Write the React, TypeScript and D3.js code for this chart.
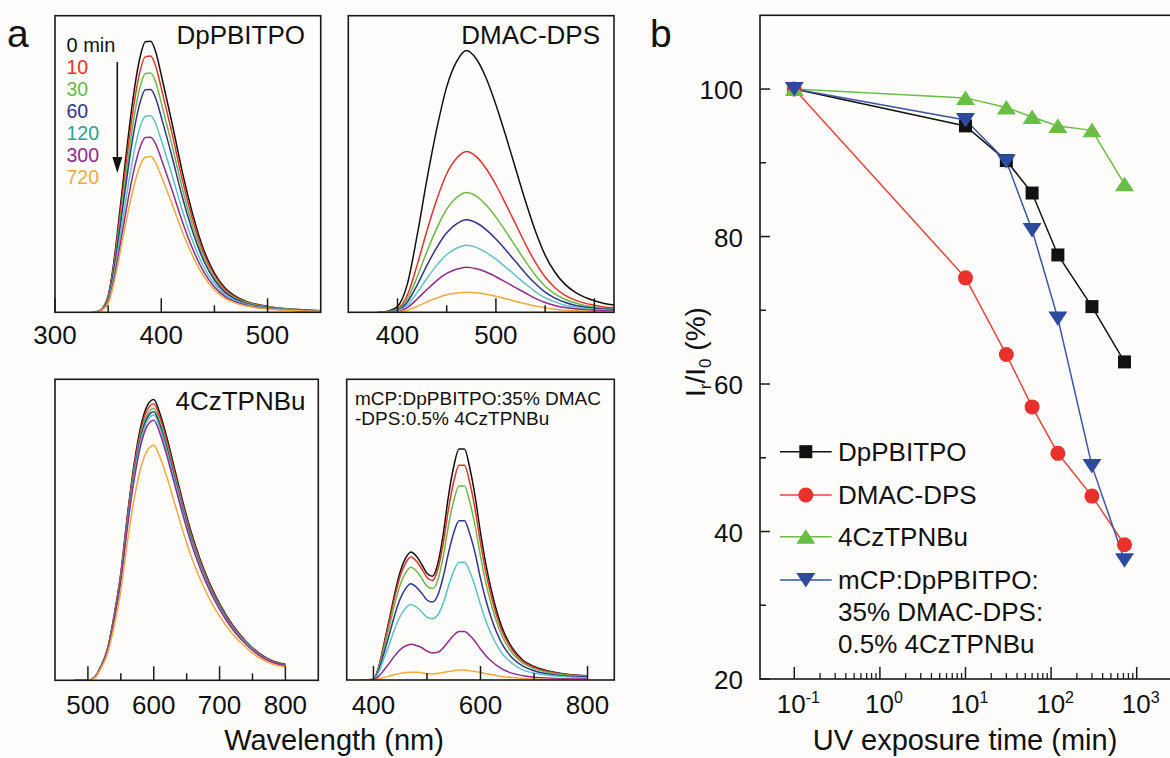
import React from "react";
import * as d3 from "d3";

const FONT = "'Liberation Sans', Arial, Helvetica, sans-serif";

// ---------- panel a : PL spectra vs UV exposure ----------
const TIME_LABELS = ["0 min", "10", "30", "60", "120", "300", "720"];
const LINE_COLORS = ["#111111", "#e8302a", "#6bb945", "#2f3490", "#5cc2c4", "#92298e", "#f3a83b"];
const TEXT_COLORS = ["#111111", "#e8302a", "#6bb945", "#2f3490", "#2f9f8b", "#92298e", "#f3a83b"];

const WL_DPPBITPO = [335, 340, 345, 350, 355, 360, 365, 370, 375, 380, 385, 390, 395, 400, 410, 420, 430, 440, 450, 460, 470, 480, 500, 525, 550];
const PL_DPPBITPO = [
  [0, 0.3, 1.5, 5.4, 16, 31, 47, 62.5, 76, 86, 91.2, 91.4, 87.5, 80, 64, 47, 32.5, 21, 13.2, 8.2, 5.4, 3.7, 2, 1, 0.5],
  [0, 0.3, 1.4, 5.1, 15.1, 29.3, 44.4, 59.1, 71.8, 81.3, 86.2, 86.4, 82.7, 75.6, 60.5, 44.4, 30.7, 19.8, 12.5, 7.7, 5.1, 3.5, 1.9, 0.9, 0.5],
  [0, 0.3, 1.3, 4.8, 14.1, 27.4, 41.5, 55.2, 67.1, 75.9, 80.5, 80.7, 77.3, 70.6, 56.5, 41.5, 28.7, 18.5, 11.7, 7.2, 4.8, 3.3, 1.8, 0.9, 0.4],
  [0, 0.2, 1.2, 4.4, 13.2, 25.5, 38.6, 51.4, 62.5, 70.7, 75, 75.1, 71.9, 65.8, 52.6, 38.6, 26.7, 17.3, 10.9, 6.7, 4.4, 3, 1.6, 0.8, 0.4],
  [0, 0.2, 1.1, 3.9, 11.6, 22.5, 34.1, 45.3, 55.1, 62.4, 66.1, 66.3, 63.4, 58, 46.4, 34.1, 23.6, 15.2, 9.6, 5.9, 3.9, 2.7, 1.5, 0.7, 0.4],
  [0, 0.2, 1, 3.5, 10.3, 20, 30.4, 40.4, 49.1, 55.6, 58.9, 59, 56.5, 51.7, 41.3, 30.4, 21, 13.6, 8.5, 5.3, 3.5, 2.4, 1.3, 0.6, 0.3],
  [0, 0.2, 0.9, 3.1, 9.2, 17.8, 27, 35.9, 43.6, 49.4, 52.3, 52.5, 50.2, 45.9, 36.7, 27, 18.7, 12.1, 7.6, 4.7, 3.1, 2.1, 1.1, 0.6, 0.3],
];

const WL_DMACDPS = [380, 390, 400, 410, 420, 430, 440, 450, 460, 470, 480, 490, 500, 510, 520, 530, 540, 550, 560, 570, 580, 590, 600, 610, 620];
const PL_DMACDPS = [
  [0, 0.4, 2, 9.5, 26, 45, 62, 76, 84.5, 88.3, 85.5, 79, 70, 59.5, 48.5, 37.5, 27.5, 19.3, 13.5, 9.5, 6.9, 5.1, 3.9, 3, 2.5],
  [0, 0.2, 1.2, 5.8, 16, 27.6, 38.1, 46.7, 51.9, 54.2, 52.5, 48.5, 43, 36.5, 29.8, 23, 16.9, 11.9, 8.3, 5.8, 4.2, 3.1, 2.4, 1.8, 1.5],
  [0, 0.2, 0.9, 4.4, 11.9, 20.6, 28.4, 34.8, 38.7, 40.4, 39.2, 36.2, 32.1, 27.3, 22.2, 17.2, 12.6, 8.8, 6.2, 4.4, 3.2, 2.3, 1.8, 1.4, 1.1],
  [0, 0.1, 0.7, 3.4, 9.2, 15.9, 21.9, 26.8, 29.8, 31.2, 30.2, 27.9, 24.7, 21, 17.1, 13.2, 9.7, 6.8, 4.8, 3.4, 2.4, 1.8, 1.4, 1.1, 0.9],
  [0, 0.1, 0.5, 2.4, 6.7, 11.5, 15.9, 19.5, 21.6, 22.6, 21.9, 20.2, 17.9, 15.2, 12.4, 9.6, 7, 4.9, 3.5, 2.4, 1.8, 1.3, 1, 0.8, 0.6],
  [0, 0.1, 0.3, 1.6, 4.5, 7.7, 10.7, 13.1, 14.5, 15.2, 14.7, 13.6, 12, 10.2, 8.3, 6.5, 4.7, 3.3, 2.3, 1.6, 1.2, 0.9, 0.7, 0.5, 0.4],
  [0, 0, 0.2, 0.7, 2, 3.5, 4.8, 5.9, 6.5, 6.8, 6.6, 6.1, 5.4, 4.6, 3.7, 2.9, 2.1, 1.5, 1, 0.7, 0.5, 0.4, 0.3, 0.2, 0.2],
];

const WL_4CZTPNBU = [480, 500, 510, 520, 530, 540, 550, 560, 570, 580, 590, 600, 610, 620, 630, 640, 650, 660, 670, 680, 690, 700, 720, 740, 760, 780, 800];
const PL_4CZTPNBU = [
  [0, 0, 1, 4.8, 10.7, 21.8, 35.6, 54.9, 71.6, 84, 91.2, 93.3, 88.2, 80.6, 71.8, 63, 54.5, 47, 40.5, 34.8, 29.8, 25.5, 18.3, 13, 9, 6.5, 5.3],
  [0, 0, 1, 4.7, 10.5, 21.5, 35.1, 54.1, 70.5, 82.7, 89.8, 91.9, 86.9, 79.4, 70.7, 62.1, 53.7, 46.3, 39.9, 34.3, 29.4, 25.1, 18, 12.8, 8.9, 6.4, 5.2],
  [0, 0, 1, 4.6, 10.4, 21.1, 34.5, 53.1, 69.3, 81.3, 88.3, 90.3, 85.4, 78, 69.5, 61, 52.8, 45.5, 39.2, 33.7, 28.8, 24.7, 17.7, 12.6, 8.7, 6.3, 5.1],
  [0, 0, 1, 4.6, 10.2, 20.8, 34, 52.5, 68.4, 80.3, 87.2, 89.2, 84.3, 77.1, 68.6, 60.2, 52.1, 44.9, 38.7, 33.3, 28.5, 24.4, 17.5, 12.4, 8.6, 6.2, 5.1],
  [0, 0, 0.9, 4.5, 10.1, 20.6, 33.6, 51.8, 67.6, 79.3, 86.1, 88.1, 83.3, 76.1, 67.8, 59.5, 51.4, 44.4, 38.2, 32.9, 28.1, 24.1, 17.3, 12.3, 8.5, 6.1, 5],
  [0, 0, 0.9, 4.4, 9.9, 20.2, 33, 50.8, 66.3, 77.8, 84.5, 86.4, 81.7, 74.6, 66.5, 58.3, 50.5, 43.5, 37.5, 32.2, 27.6, 23.6, 16.9, 12, 8.3, 6, 4.9],
  [0, 0, 0.8, 4, 9, 18.2, 29.8, 46, 59.9, 70.3, 76.3, 78.1, 73.8, 67.5, 60.1, 52.7, 45.6, 39.3, 33.9, 29.1, 24.9, 21.3, 15.3, 10.9, 7.5, 5.4, 4.4],
];

const WL_MIX = [380, 400, 410, 420, 430, 440, 450, 460, 470, 480, 490, 500, 510, 520, 530, 540, 550, 560, 570, 580, 590, 600, 610, 620, 640, 660, 680, 700, 740, 800];
const PL_MIX = [
  [0, 0.2, 4.5, 12.3, 20.5, 29, 36, 40.5, 42.6, 41.2, 38.5, 35.5, 34.5, 38.5, 48, 61, 71, 76.8, 76.8, 70.5, 61, 49, 38.5, 30, 17.5, 10.5, 6.5, 4.5, 2.5, 1.4],
  [0, 0.2, 4.3, 11.8, 19.7, 27.8, 34.6, 38.9, 40.9, 39.6, 37, 34.1, 33.1, 36.6, 45.1, 56.7, 66, 71.4, 71.4, 65.6, 56.7, 45.6, 35.8, 27.9, 16.3, 9.8, 6, 4.2, 2.3, 1.3],
  [0, 0.2, 4, 10.8, 18, 25.5, 31.7, 35.6, 37.5, 36.3, 33.9, 31.2, 30.4, 33.1, 40.8, 51.2, 59.6, 64.5, 64.5, 59.2, 51.2, 41.2, 32.3, 25.2, 14.7, 8.8, 5.5, 3.8, 2.1, 1.2],
  [0, 0.2, 3.4, 9.2, 15.4, 21.8, 27, 30.4, 32, 30.9, 28.9, 26.6, 25.9, 28.1, 34.1, 42.1, 49, 53, 53, 48.6, 42.1, 33.8, 26.6, 20.7, 12.1, 7.2, 4.5, 3.1, 1.7, 1],
  [0, 0.1, 2.7, 7.3, 12.1, 17.1, 21.2, 23.9, 25.1, 24.3, 22.7, 20.9, 20.4, 21.6, 25.4, 31.1, 36.2, 39.2, 39.2, 36, 31.1, 25, 19.6, 15.3, 8.9, 5.4, 3.3, 2.3, 1.3, 0.7],
  [0, 0.1, 1.3, 3.4, 5.7, 8.1, 10.1, 11.3, 11.9, 11.5, 10.8, 9.6, 9, 9.2, 10.6, 12.8, 14.9, 16.1, 16.1, 14.8, 12.8, 10.3, 8.1, 6.3, 3.7, 2.2, 1.4, 0.9, 0.5, 0.3],
  [0, 0, 0.4, 0.8, 1.3, 1.8, 2.2, 2.5, 2.6, 2.6, 2.4, 2.1, 2, 2.2, 2.5, 2.8, 3.1, 3.3, 3.3, 3.1, 2.8, 2.5, 2.1, 1.8, 1.2, 0.8, 0.5, 0.3, 0.2, 0.1],
];

const TICKS_DPPBITPO = [300, 400, 500];
const MINOR_DPPBITPO = [350, 450];
const TICKS_DMACDPS = [400, 500, 600];
const MINOR_DMACDPS = [450, 550];
const TICKS_4CZTPNBU = [500, 600, 700, 800];
const MINOR_4CZTPNBU = [550, 650, 750];
const TICKS_MIX = [400, 600, 800];
const MINOR_MIX = [500, 700];

// ---------- panel b : stability ----------
const EXPOSURE_MIN = [0.1, 10, 30, 60, 120, 300, 720];
const STAB_DPPBITPO = [100, 95, 90.3, 85.9, 77.5, 70.5, 63];
const STAB_DMACDPS = [100, 74.4, 64, 56.9, 50.6, 44.8, 38.2];
const STAB_4CZTPNBU = [100, 98.8, 97.5, 96.2, 95, 94.4, 87.1];
const STAB_MIX = [100, 95.8, 90.2, 80.9, 68.9, 48.9, 36.1];
const STAB_NAMES = ["DpPBITPO", "DMAC-DPS", "4CzTPNBu", "mCP:DpPBITPO:|35% DMAC-DPS:|0.5% 4CzTPNBu"];
const STAB_COLORS = ["#111111", "#e8312a", "#6abd45", "#2e4a9e"];
const STAB_LINE_COLORS = ["#111111", "#e8453c", "#6abd45", "#3a55a8"];
const STAB_MARKERS = ["square", "circle", "up", "down"];
const Y_TICKS_B = [20, 40, 60, 80, 100];
const Y_MINOR_B = [30, 50, 70, 90];
const X_DECADES_B = [-1, 0, 1, 2, 3];

const STROKE = "#1a1a1a";

type PanelProps = {
  x0: number; x1: number; y0: number; y1: number;
  domain: [number, number];
  wl: number[]; series: number[][];
  major: number[]; minor: number[];
  labelY: number; id: string;
};

function SpectrumPanel(p: PanelProps) {
  const xs = d3.scaleLinear().domain(p.domain).range([p.x0, p.x1]);
  const ys = d3.scaleLinear().domain([0, 100]).range([p.y1, p.y0]);
  const line = d3
    .line<number>()
    .x((_, i) => xs(p.wl[i]))
    .y((d) => ys(d))
    .curve(d3.curveMonotoneX);
  return (
    <g>
      <defs>
        <clipPath id={p.id}>
          <rect x={p.x0} y={p.y0} width={p.x1 - p.x0} height={p.y1 - p.y0} />
        </clipPath>
      </defs>
      <g clipPath={`url(#${p.id})`}>
        {p.series.map((s, i) => (
          <path key={i} d={line(s) || ""} fill="none" stroke={LINE_COLORS[i]} strokeWidth={1.5} strokeLinejoin="round" />
        ))}
      </g>
      <rect x={p.x0} y={p.y0} width={p.x1 - p.x0} height={p.y1 - p.y0} fill="none" stroke={STROKE} strokeWidth={1.6} />
      {p.major.map((t) => (
        <line key={"M" + t} x1={xs(t)} x2={xs(t)} y1={p.y1} y2={p.y1 - 14} stroke={STROKE} strokeWidth={1.5} />
      ))}
      {p.minor.map((t) => (
        <line key={"m" + t} x1={xs(t)} x2={xs(t)} y1={p.y1} y2={p.y1 - 7} stroke={STROKE} strokeWidth={1.5} />
      ))}
      {p.major.map((t) => (
        <text key={"L" + t} x={xs(t)} y={p.labelY} textAnchor="middle" fontSize={26} fill="#111">
          {t}
        </text>
      ))}
    </g>
  );
}

function Marker({ type, x, y, color }: { type: string; x: number; y: number; color: string }) {
  if (type === "square") return <rect x={x - 6.5} y={y - 6.5} width={13} height={13} fill={color} />;
  if (type === "circle") return <circle cx={x} cy={y} r={7.5} fill={color} />;
  if (type === "up") return <path d={`M${x},${y - 7.5}L${x + 9.5},${y + 7}L${x - 9.5},${y + 7}Z`} fill={color} />;
  return <path d={`M${x},${y + 7.5}L${x + 9.5},${y - 7}L${x - 9.5},${y - 7}Z`} fill={color} />;
}

function PanelB() {
  const left = 760, top = 15.3, bottom = 679;
  const xs = d3.scaleLog().domain([Math.pow(10, -1.4007), Math.pow(10, 3.5)]).range([left, 1179.5]);
  const ys = d3.scaleLinear().domain([20, 110]).range([bottom, top]);
  const series = [STAB_DPPBITPO, STAB_DMACDPS, STAB_4CZTPNBU, STAB_MIX];
  const line = d3
    .line<number>()
    .x((_, i) => xs(EXPOSURE_MIN[i]))
    .y((d) => ys(d));
  const minorX: number[] = [];
  X_DECADES_B.slice(0, 4).forEach((e) => {
    for (let k = 2; k <= 9; k++) minorX.push(k * Math.pow(10, e));
  });
  const legendRows = [451.7, 495, 536.7, 580];
  return (
    <g>
      <rect x={left} y={top} width={1179.5 - left} height={bottom - top} fill="none" stroke={STROKE} strokeWidth={1.6} />
      {Y_TICKS_B.map((t) => (
        <g key={"y" + t}>
          <line x1={left} x2={left + 10} y1={ys(t)} y2={ys(t)} stroke={STROKE} strokeWidth={1.5} />
          <text x={743} y={ys(t) + 10} textAnchor="end" fontSize={26} fill="#111">
            {t}
          </text>
        </g>
      ))}
      {Y_MINOR_B.map((t) => (
        <line key={"ym" + t} x1={left} x2={left + 6} y1={ys(t)} y2={ys(t)} stroke={STROKE} strokeWidth={1.5} />
      ))}
      {X_DECADES_B.map((e) => (
        <g key={"x" + e}>
          <line x1={xs(Math.pow(10, e))} x2={xs(Math.pow(10, e))} y1={bottom} y2={bottom - 12} stroke={STROKE} strokeWidth={1.5} />
          <text x={xs(Math.pow(10, e)) + 4} y={713} textAnchor="middle" fontSize={26} fill="#111">
            10
            <tspan dy={-10} fontSize={16}>
              {e}
            </tspan>
          </text>
        </g>
      ))}
      {minorX.map((v, i) => (
        <line key={"xm" + i} x1={xs(v)} x2={xs(v)} y1={bottom} y2={bottom - 6} stroke={STROKE} strokeWidth={1.3} />
      ))}
      {series.map((s, i) => (
        <path key={"l" + i} d={line(s) || ""} fill="none" stroke={STAB_LINE_COLORS[i]} strokeWidth={1.5} />
      ))}
      {series.map((s, i) => (
        <g key={"m" + i}>
          {s.map((v, j) => (
            <Marker key={j} type={STAB_MARKERS[i]} x={xs(EXPOSURE_MIN[j])} y={ys(v)} color={STAB_COLORS[i]} />
          ))}
        </g>
      ))}
      {STAB_NAMES.map((name, i) => (
        <g key={"lg" + i}>
          <line x1={780} x2={831.7} y1={legendRows[i]} y2={legendRows[i]} stroke={STAB_LINE_COLORS[i]} strokeWidth={1.5} />
          <Marker type={STAB_MARKERS[i]} x={805.8} y={legendRows[i]} color={STAB_COLORS[i]} />
          {name.split("|").map((part, k) => (
            <text key={k} x={838} y={legendRows[i] + 9.3 + k * 31.7} fontSize={26} fill="#111">
              {part}
            </text>
          ))}
        </g>
      ))}
      <text x={965} y={750} textAnchor="middle" fontSize={29} fill="#111">
        UV exposure time (min)
      </text>
      <text transform="translate(705,352) rotate(-90)" textAnchor="middle" fontSize={28} fill="#111">
        I<tspan dy={6} fontSize={17}>r</tspan>
        <tspan dy={-6}>/I</tspan>
        <tspan dy={6} fontSize={17}>0</tspan>
        <tspan dy={-6}> (%)</tspan>
      </text>
    </g>
  );
}

export default function App() {
  return (
    <svg
      width={1170}
      height={758}
      viewBox="0 0 1170 758"
      style={{ position: "absolute", left: 0, top: 0, display: "block" }}
      fontFamily={FONT}
    >
      <rect x={0} y={0} width={1170} height={758} fill="#fefdfb" />
      <SpectrumPanel x0={55} x1={320.7} y0={15.7} y1={312.3} domain={[300, 550]} wl={WL_DPPBITPO} series={PL_DPPBITPO} major={TICKS_DPPBITPO} minor={MINOR_DPPBITPO} labelY={344} id="c1" />
      <SpectrumPanel x0={348.3} x1={614} y0={15.7} y1={312.3} domain={[350, 620]} wl={WL_DMACDPS} series={PL_DMACDPS} major={TICKS_DMACDPS} minor={MINOR_DMACDPS} labelY={344} id="c2" />
      <SpectrumPanel x0={55} x1={318.3} y0={379.3} y1={680.3} domain={[450, 850]} wl={WL_4CZTPNBU} series={PL_4CZTPNBU} major={TICKS_4CZTPNBU} minor={MINOR_4CZTPNBU} labelY={714} id="c3" />
      <SpectrumPanel x0={346.7} x1={614.3} y0={379.3} y1={680} domain={[350, 850]} wl={WL_MIX} series={PL_MIX} major={TICKS_MIX} minor={MINOR_MIX} labelY={714} id="c4" />

      <text x={305} y={44} textAnchor="end" fontSize={26} fill="#111">DpPBITPO</text>
      <text x={600} y={43.5} textAnchor="end" fontSize={26} fill="#111">DMAC-DPS</text>
      <text x={305.5} y={409.5} textAnchor="end" fontSize={26} fill="#111">4CzTPNBu</text>
      <text x={355} y={405} fontSize={19} fill="#111">mCP:DpPBITPO:35% DMAC</text>
      <text x={355} y={425} fontSize={19} fill="#111">-DPS:0.5% 4CzTPNBu</text>

      {TIME_LABELS.map((t, i) => (
        <text key={t} x={66.5} y={52 + i * 22} fontSize={i === 0 ? 20 : 19.5} fill={TEXT_COLORS[i]}>
          {t}
        </text>
      ))}
      <line x1={117.3} x2={117.3} y1={62} y2={160} stroke="#111" strokeWidth={1.6} />
      <path d="M112.3,157L122.3,157L117.3,173Z" fill="#111" />

      <text x={334} y={750} textAnchor="middle" fontSize={29} fill="#111">Wavelength (nm)</text>

      <PanelB />

      <text x={7} y={46.5} fontSize={39} fill="#111">a</text>
      <text x={650} y={46.5} fontSize={39} fill="#111">b</text>
    </svg>
  );
}
